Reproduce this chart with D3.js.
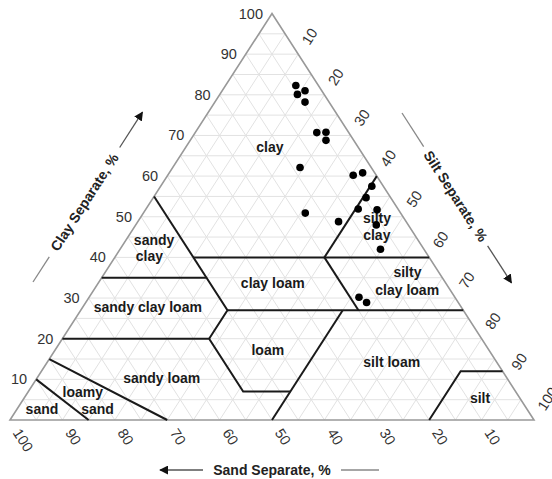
<!DOCTYPE html>
<html>
<head>
<meta charset="utf-8">
<script src="https://cdn.jsdelivr.net/npm/d3@7"></script>
<style>
  body { margin: 0; background: #fff; }
  svg { display: block; font-family: "Liberation Sans", Arial, sans-serif; }
</style>
</head>
<body>
<div id="chart"></div>
<script>
const W = 552, H = 479;

// ticks along each side
const ticks = [10, 20, 30, 40, 50, 60, 70, 80, 90, 100];
const gridSteps = d3.range(5, 100, 5);

// texture class boundaries, as [sand, clay] polylines
const boundaries = [
  [[85, 0], [90, 10]],
  [[70, 0], [85, 15]],
  [[80, 20], [52, 20], [52, 7], [43, 7]],
  [[23, 27], [50, 0]],
  [[45, 27], [0, 27]],
  [[65, 35], [45, 35], [45, 27], [52, 20]],
  [[45, 55], [45, 35]],
  [[45, 40], [0, 40]],
  [[20, 40], [20, 27]],
  [[20, 40], [0, 60]],
  [[20, 0], [8, 12], [0, 12]]
];

// class names and where they sit, as [sand, clay]
const classNames = ["clay", "sandy", "clay", "sandy clay loam", "clay loam", "silty", "clay loam",
  "silty", "clay", "loam", "sandy loam", "silt loam", "silt", "loamy", "sand", "sand"];
const classPos = [[16.8, 67.2], [50.3, 44.4], [53.2, 40.4], [59.8, 27.8], [33, 33.7], [5.9, 36.5], [8.2, 32.0],
  [5.1, 49.7], [7.2, 45.6], [42.2, 17.2], [65.9, 10.3], [20, 14.3], [7.6, 5.4], [82.7, 6.8], [81.9, 2.8],
  [92.5, 2.8]];

// samples
const sampleClay = [82.3, 81.0, 80.1, 78.2, 70.7, 70.8, 68.8, 62.1, 60.2, 60.8,
  57.5, 54.7, 51.9, 51.7, 50.9, 48.8, 48.0, 42.0, 30.2, 28.9];
const sampleSand = [4.3, 3.2, 5.1, 4.6, 6.1, 4.3, 5.3, 13.6, 4.4, 2.3,
  2.2, 4.7, 7.6, 4.1, 18.2, 12.9, 6.1, 8.3, 18.3, 17.5];

const xS = d3.scaleLinear().domain([0, 100]).range([10, 534]);
const yS = d3.scaleLinear().domain([0, 100]).range([420, 13.5]);
const pt = (sand, clay) => [xS(100 - sand - clay + clay / 2), yS(clay)];

const ang = Math.atan2(yS(0) - yS(100), xS(50) - xS(0)) * 180 / Math.PI;
const ca = Math.cos(ang * Math.PI / 180), sa = Math.sin(ang * Math.PI / 180);

const svg = d3.select("#chart").append("svg")
  .attr("width", W).attr("height", H);

const defs = svg.append("defs");
defs.append("marker")
  .attr("id", "head")
  .attr("viewBox", "0 0 10 10")
  .attr("refX", 9).attr("refY", 5)
  .attr("markerWidth", 9).attr("markerHeight", 9)
  .attr("markerUnits", "userSpaceOnUse")
  .attr("orient", "auto")
  .append("path").attr("d", "M0,0L10,5L0,10Z").attr("fill", "#111");

const line = d3.line();

// grid
const gGrid = svg.append("g").attr("stroke", "#e2e2e2").attr("stroke-width", 1).attr("fill", "none");
gridSteps.forEach(v => {
  gGrid.append("path").attr("d", line([pt(100 - v, v), pt(0, v)]));
  gGrid.append("path").attr("d", line([pt(v, 0), pt(v, 100 - v)]));
  gGrid.append("path").attr("d", line([pt(100 - v, 0), pt(0, 100 - v)]));
});

// outline
svg.append("path")
  .attr("d", line([pt(100, 0), pt(0, 100), pt(0, 0)]) + "Z")
  .attr("fill", "none").attr("stroke", "#999").attr("stroke-width", 1.6);

// boundaries
svg.append("g").attr("fill", "none").attr("stroke", "#1a1a1a").attr("stroke-width", 2)
  .selectAll("path").data(boundaries).join("path")
  .attr("d", d => line(d.map(p => pt(p[0], p[1]))));

// tick labels
const gTick = svg.append("g").attr("fill", "#333").style("font-size", "14.5px");
gTick.selectAll("text.clay").data(ticks).join("text").attr("class", "clay")
  .attr("x", d => pt(100 - d, d)[0] - 9).attr("y", d => pt(100 - d, d)[1])
  .attr("text-anchor", "end").attr("dominant-baseline", "central")
  .text(d => d);
gTick.selectAll("text.sand").data(ticks).join("text").attr("class", "sand")
  .attr("transform", d => {
    const p = pt(d, 0);
    return `translate(${p[0] + ca * 12},${p[1] + sa * 12}) rotate(${ang})`;
  })
  .attr("dominant-baseline", "central")
  .text(d => d);
gTick.selectAll("text.silt").data(ticks).join("text").attr("class", "silt")
  .attr("transform", d => {
    const p = pt(0, 100 - d);
    return `translate(${p[0] + ca * 13},${p[1] - sa * 13}) rotate(${-ang})`;
  })
  .attr("dominant-baseline", "central")
  .text(d => d);

// class labels
svg.append("g").attr("fill", "#1a1a1a").style("font-size", "14px").style("font-weight", "bold")
  .selectAll("text").data(classNames).join("text")
  .attr("x", (d, i) => pt(classPos[i][0], classPos[i][1])[0])
  .attr("y", (d, i) => pt(classPos[i][0], classPos[i][1])[1])
  .attr("text-anchor", "middle").attr("dominant-baseline", "central")
  .text(d => d);

// samples
svg.append("g").selectAll("circle").data(sampleClay).join("circle")
  .attr("cx", (d, i) => pt(sampleSand[i], d)[0])
  .attr("cy", (d, i) => pt(sampleSand[i], d)[1])
  .attr("r", 3.8).attr("fill", "#000");

// axis titles
function axisTitle(x0, y0, a, label, pre, gap1, post) {
  const g = svg.append("g").attr("transform", `translate(${x0},${y0}) rotate(${a})`);
  g.append("line").attr("x1", 0).attr("x2", pre).attr("stroke", "#888").attr("stroke-width", 1.3);
  g.append("text").attr("x", (pre + gap1) / 2).attr("y", 0)
    .attr("text-anchor", "middle").attr("dominant-baseline", "central")
    .style("font-size", "14px").style("font-weight", "bold").attr("fill", "#222")
    .text(label);
  g.append("line").attr("x1", gap1).attr("x2", post).attr("stroke", "#555").attr("stroke-width", 1.3)
    .attr("marker-end", "url(#head)");
}
// clay: runs up-right
axisTitle(33, 282, -ang, "Clay Separate, %", 30, 160, 202);
// silt: runs down-right
axisTitle(402, 113, ang, "Silt Separate, %", 40, 158, 202);

// sand: horizontal, arrow left
const gS = svg.append("g");
gS.append("line").attr("x1", 203).attr("x2", 160).attr("y1", 470).attr("y2", 470)
  .attr("stroke", "#555").attr("stroke-width", 1.3).attr("marker-end", "url(#head)");
gS.append("text").attr("x", 272).attr("y", 470)
  .attr("text-anchor", "middle").attr("dominant-baseline", "central")
  .style("font-size", "14px").style("font-weight", "bold").attr("fill", "#222")
  .text("Sand Separate, %");
gS.append("line").attr("x1", 341).attr("x2", 379).attr("y1", 470).attr("y2", 470)
  .attr("stroke", "#888").attr("stroke-width", 1.3);
</script>
</body>
</html>
